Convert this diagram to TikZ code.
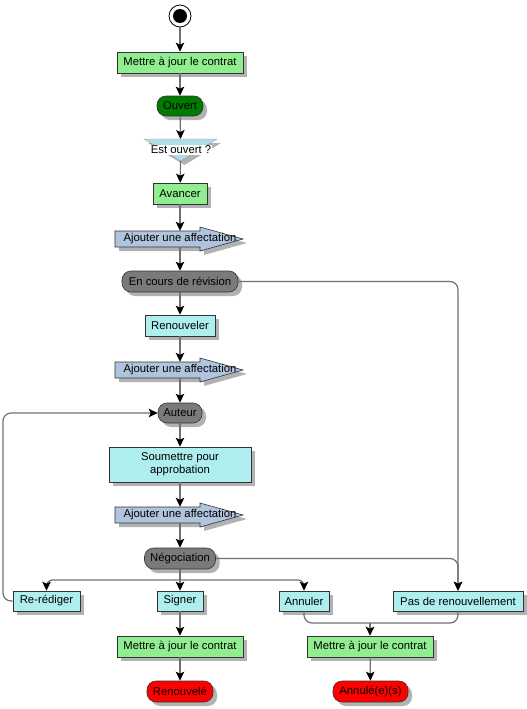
\documentclass[tikz,border=0pt]{standalone}
\usepackage{fontspec}
\setmainfont{Liberation Sans}
\usetikzlibrary{arrows.meta,shadows,positioning}
\definecolor{actgreen}{HTML}{90EE90}
\definecolor{actcyan}{HTML}{AFEEEE}
\definecolor{stgray}{HTML}{7A7A7A}
\definecolor{stgreen}{HTML}{007A00}
\definecolor{affblue}{HTML}{B0C4DE}
\definecolor{decblue}{HTML}{B0DDE8}
\definecolor{linegray}{HTML}{707070}
\tikzset{
  shad/.style={drop shadow={shadow xshift=4pt,shadow yshift=-4pt,fill=black!30,opacity=1}},
  base/.style={draw=black!80,line width=0.6pt,inner sep=0pt,font=\fontsize{11.3}{13}\selectfont,align=center,shad},
  actbox/.style={base,rectangle,fill=actgreen},
  cyanbox/.style={base,rectangle,fill=actcyan},
  pill/.style={base,rectangle,rounded corners=9pt},
  afftext/.style={inner sep=0pt,minimum height=16,font=\fontsize{11.3}{13}\selectfont},
  affshape/.style={draw=black!80,line width=0.6pt,fill=affblue,shad},
  conn/.style={draw=linegray,line width=1.2pt,-{Stealth[length=9pt,width=8.5pt,inset=2pt,color=black]}},
  plain/.style={draw=linegray,line width=1.2pt},
}
\newcommand\affarrow[2]{%
  \draw[affshape] (115,{#2-8}) -- (200,{#2-8}) -- (200,{#2-12}) -- (243,#2) -- (200,{#2+12}) -- (200,{#2+8}) -- (115,{#2+8}) -- cycle;
  \node[afftext] (#1) at (180,#2) {Ajouter une affectation};}
\begin{document}
\begin{tikzpicture}[x=1pt,y=-1pt]
\useasboundingbox (0,0) rectangle (527,709);
% start
\node[circle,draw=black,line width=0.8pt,fill=white,minimum size=22pt,inner sep=0pt] (start) at (180,16) {};
\fill[black] (start.center) circle (7);
% nodes
\node[actbox,minimum width=126,minimum height=21] (m1) at (180,62.5) {Mettre à jour le contrat};
\node[pill,fill=stgreen,minimum width=46,minimum height=20] (ouvert) at (180,106) {Ouvert};
% decision
\draw[draw=black!40,fill=decblue,line width=0.4pt,shad] (144,139) -- (217,139) -- (180.5,161) -- cycle;
\coordinate (dectop) at (180.5,139);
\coordinate (decbot) at (180.5,161);
\node[fill=white,inner sep=1pt,font=\fontsize{11.3}{13}\selectfont] (dec) at (181,149.5) {Est ouvert ?};
\node[actbox,minimum width=54,minimum height=21] (avancer) at (180,193.5) {Avancer};
\affarrow{aff1}{239}
\node[pill,fill=stgray,minimum width=116,minimum height=21] (encours) at (180,281.5) {En cours de révision};
\node[cyanbox,minimum width=70,minimum height=21] (renouveler) at (180,325.5) {Renouveler};
\affarrow{aff2}{370}
\node[pill,fill=stgray,minimum width=44,minimum height=20] (auteur) at (180,413) {Auteur};
\node[cyanbox,minimum width=142,minimum height=35] (soumettre) at (180,464.5) {Soumettre pour\\approbation};
\affarrow{aff3}{515}
\node[pill,fill=stgray,minimum width=71,minimum height=21] (nego) at (180,558.5) {Négociation};
\node[cyanbox,minimum width=67,minimum height=20] (rered) at (46.5,601) {Re-rédiger};
\node[cyanbox,minimum width=46,minimum height=20] (signer) at (180,601) {Signer};
\node[cyanbox,minimum width=50,minimum height=20] (annuler) at (304,601) {Annuler};
\node[cyanbox,minimum width=130,minimum height=20] (pas) at (458,601) {Pas de renouvellement};
\node[actbox,minimum width=126,minimum height=21] (m2) at (180,646.5) {Mettre à jour le contrat};
\node[actbox,minimum width=126,minimum height=21] (m3) at (370,646.5) {Mettre à jour le contrat};
\node[pill,fill=red,minimum width=66,minimum height=21] (renouvele) at (180,691.5) {Renouvelé};
\node[pill,fill=red,minimum width=75,minimum height=21] (annule) at (370.5,691.5) {Annulé(e)(s)};
\coordinate (fork) at (180,580);
\coordinate (merge) at (370,623);
% connectors
\draw[conn] (start) -- (m1);
\draw[conn] (m1) -- (ouvert);
\draw[conn] (ouvert) -- (dectop);
\draw[conn] (decbot) -- (avancer);
\draw[conn] (avancer) -- (aff1.north);
\draw[conn] (aff1.south) -- (encours);
\draw[conn] (encours) -- (renouveler);
\draw[conn,rounded corners=8pt] (encours.east) -- (pas.north |- encours.east) -- (pas.north);
\draw[conn] (renouveler) -- (aff2.north);
\draw[conn] (aff2.south) -- (auteur);
\draw[conn] (auteur) -- (soumettre);
\draw[conn] (soumettre) -- (aff3.north);
\draw[conn] (aff3.south) -- (nego);
\draw[conn,rounded corners=8pt] (nego.east) -- (pas.north |- nego.east) -- (pas.north);
\draw[plain] (nego.south) -- (fork);
\draw[conn,rounded corners=6pt] (fork) -- (rered.north |- fork) -- (rered.north);
\draw[conn] (fork) -- (signer.north);
\draw[conn,rounded corners=6pt] (fork) -- (annuler.north |- fork) -- (annuler.north);
\draw[conn,rounded corners=8pt] (rered.west) -- (3,601) -- (3,413) -- (auteur.west);
\draw[conn] (signer) -- (m2);
\draw[conn] (m2) -- (renouvele);
\draw[plain,rounded corners=8pt] (annuler.south) -- (annuler.south |- merge) -- (merge);
\draw[plain,rounded corners=8pt] (pas.south) -- (pas.south |- merge) -- (merge);
\draw[conn] (merge) -- (m3);
\draw[conn] (m3) -- (annule);
\end{tikzpicture}
\end{document}
